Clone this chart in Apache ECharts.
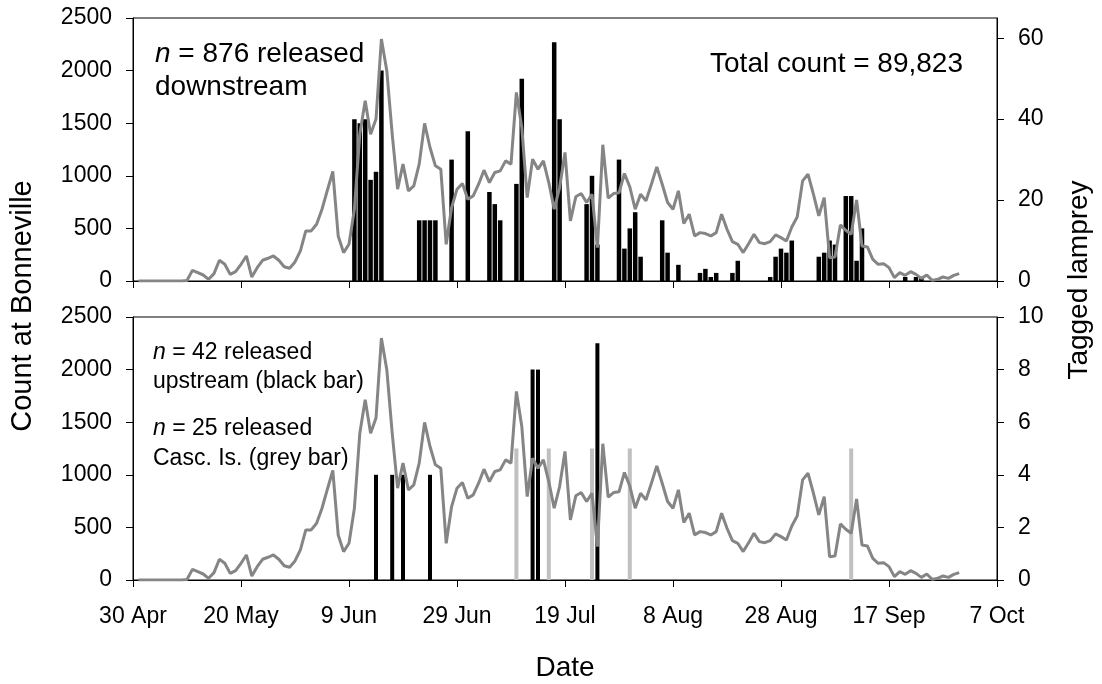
<!DOCTYPE html>
<html>
<head>
<meta charset="utf-8">
<title>Lamprey counts at Bonneville</title>
<script src="https://cdn.jsdelivr.net/npm/echarts@6/dist/echarts.min.js"></script>
<style>
  html, body { margin: 0; padding: 0; background: #fff; }
  #chart { width: 1102px; height: 684px; }
</style>
</head>
<body>
<div id="chart"></div>
<script>
// Days are counted from 30 Apr (day 0).
const dateTicks = ['30 Apr', '20 May', '9 Jun', '29 Jun', '19 Jul', '8 Aug', '28 Aug', '17 Sep', '7 Oct'];

// Daily lamprey count at Bonneville, 1 May (day 1) to 30 Sep (day 153).
const countFirstDay = 1;
const bonnevilleCount = [
  0, 0, 0, 0, 0, 0, 0, 0, 0, 5,
  101, 79, 57, 16, 70, 197, 159, 63, 89, 159,
  238, 38, 127, 197, 216, 238, 197, 136, 121, 181,
  286, 476, 476, 539, 682, 863, 1041, 428, 270, 349,
  682, 1396, 1713, 1396, 1539, 2300, 1999, 1396, 873, 1111,
  857, 904, 1111, 1498, 1269, 1095, 1063, 349, 698, 873,
  927, 777, 809, 920, 1053, 936, 1031, 1047, 1142, 1111,
  1793, 1460, 793, 1158, 1063, 1142, 936, 682, 888, 1222,
  571, 800, 831, 746, 825, 317, 1295, 787, 831, 838,
  1022, 895, 682, 825, 762, 920, 1085, 920, 746, 682,
  857, 546, 635, 428, 460, 451, 428, 460, 635, 492,
  374, 349, 270, 355, 444, 365, 355, 374, 438, 412,
  381, 514, 609, 952, 1015, 825, 619, 793, 222, 228,
  533, 482, 444, 771, 333, 324, 206, 159, 165, 127,
  32, 79, 54, 89, 63, 25, 57, 6, 16, 38,
  25, 54, 70
];

// Tagged lamprey released downstream, detected per day.
const downstreamDays = [41, 42, 43, 44, 45, 46, 53, 54, 55, 56, 59, 62, 66, 67, 68, 71, 72, 78, 79,
  84, 85, 86, 90, 91, 92, 93, 94, 98, 99, 101, 105, 106, 107, 108, 111, 112,
  118, 119, 120, 121, 122, 127, 128, 129, 130, 132, 133, 134, 135, 143, 145, 146];
const downstreamTagged = [40, 39, 40, 25, 27, 52, 15, 15, 15, 15, 30, 37, 22, 19, 15, 24, 50, 59, 40,
  19, 26, 9, 30, 8, 13, 17, 6, 15, 7, 4, 2, 3, 1, 2, 2, 5,
  1, 6, 8, 7, 10, 6, 7, 10, 9, 21, 21, 5, 13, 1, 1, 1];

// Tagged lamprey released upstream (black) and at Cascades Island (grey).
const upstreamDays = [45, 48, 50, 55, 74, 75, 86];
const upstreamTagged = [4, 4, 4, 4, 8, 8, 9];
const cascadesDays = [71, 77, 85, 92, 133];
const cascadesTagged = [5, 5, 5, 5, 5];

const FONT = '"Liberation Sans", Arial, Helvetica, sans-serif';
const INK = '#000';
const LINE_GREY = '#858585';
const BAR_GREY = '#c0c0c0';

const pairs = (xs, ys) => xs.map((x, i) => [x, ys[i]]);
const countSeries = bonnevilleCount.map((v, i) => [countFirstDay + i, v]);

const chart = echarts.init(document.getElementById('chart'), null, { renderer: 'canvas' });

function xAxisFor(gridIndex, showLabels) {
  return {
    type: 'value', gridIndex, min: 0, max: 160, interval: 20,
    axisLine: { show: true, onZero: false, lineStyle: { color: INK, width: 1 } },
    axisTick: { show: true, inside: false, length: 7, lineStyle: { color: INK, width: 1 } },
    splitLine: { show: false },
    axisLabel: {
      show: showLabels, margin: 25, color: INK, fontFamily: FONT, fontSize: 23,
      formatter: v => dateTicks[Math.round(v / 20)] || ''
    }
  };
}

function yAxisFor(gridIndex, position, max, interval, ticks) {
  const ax = {
    type: 'value', gridIndex, position, min: 0, max, interval,
    axisLine: { show: true, onZero: false, lineStyle: { color: INK, width: 1 } },
    axisTick: { show: true, inside: false, length: 7, lineStyle: { color: INK, width: 1 } },
    splitLine: { show: false },
    axisLabel: { margin: 21, color: INK, fontFamily: FONT, fontSize: 23, formatter: v => String(v) }
  };
  if (ticks) {
    ax.axisLabel.customValues = ticks;
    ax.axisTick.customValues = ticks;
    ax.axisLabel.formatter = v => (ticks.indexOf(v) >= 0 ? String(v) : '');
  }
  return ax;
}

function label(x, y, text, size, align, extra) {
  return Object.assign({
    type: 'text', x, y, silent: true,
    style: {
      text, fill: INK, fontFamily: FONT, fontSize: size,
      align: align || 'left', verticalAlign: 'middle',
      rich: { i: { fontStyle: 'italic', fontFamily: FONT, fontSize: size, fill: INK } }
    }
  }, extra || {});
}

chart.setOption({
  animation: false,
  backgroundColor: '#fff',
  grid: [
    { left: 133, right: 105, top: 18, height: 263, show: true, borderColor: INK, borderWidth: 1, backgroundColor: 'transparent' },
    { left: 133, right: 105, top: 317, height: 263, show: true, borderColor: INK, borderWidth: 1, backgroundColor: 'transparent' }
  ],
  xAxis: [xAxisFor(0, false), xAxisFor(1, true)],
  yAxis: [
    yAxisFor(0, 'left', 2500, 500),
    yAxisFor(0, 'right', 65, 20, [0, 20, 40, 60]),
    yAxisFor(1, 'left', 2500, 500),
    yAxisFor(1, 'right', 10, 2)
  ],
  series: [
    {
      name: 'Released downstream', type: 'bar', xAxisIndex: 0, yAxisIndex: 1,
      barWidth: 4.5, itemStyle: { color: INK }, z: 2,
      data: pairs(downstreamDays, downstreamTagged)
    },
    {
      name: 'Count at Bonneville', type: 'line', xAxisIndex: 0, yAxisIndex: 0,
      showSymbol: false, symbol: 'none', z: 3,
      lineStyle: { color: LINE_GREY, width: 3 },
      data: countSeries
    },
    {
      name: 'Released upstream', type: 'bar', xAxisIndex: 1, yAxisIndex: 3,
      barWidth: 4, barGap: '-100%', itemStyle: { color: INK }, z: 2,
      data: pairs(upstreamDays, upstreamTagged)
    },
    {
      name: 'Released Cascades Island', type: 'bar', xAxisIndex: 1, yAxisIndex: 3,
      barWidth: 4, barGap: '-100%', itemStyle: { color: BAR_GREY }, z: 2,
      data: pairs(cascadesDays, cascadesTagged)
    },
    {
      name: 'Count at Bonneville (lower)', type: 'line', xAxisIndex: 1, yAxisIndex: 2,
      showSymbol: false, symbol: 'none', z: 3,
      lineStyle: { color: LINE_GREY, width: 3 },
      data: countSeries
    }
  ],
  graphic: [
    label(155, 54, '{i|n} = 876 released', 28),
    label(155, 87, 'downstream', 28),
    label(963, 64.5, 'Total count = 89,823', 28, 'right'),
    label(153, 353, '{i|n} = 42 released', 23),
    label(153, 382, 'upstream (black bar)', 23),
    label(153, 429, '{i|n} = 25 released', 23),
    label(153, 459, 'Casc. Is. (grey bar)', 23),
    label(565, 668, 'Date', 28, 'center'),
    label(23, 306, 'Count at Bonneville', 29, 'center', { rotation: Math.PI / 2 }),
    label(1079, 280, 'Tagged lamprey', 28, 'center', { rotation: Math.PI / 2 })
  ]
});
</script>
</body>
</html>
